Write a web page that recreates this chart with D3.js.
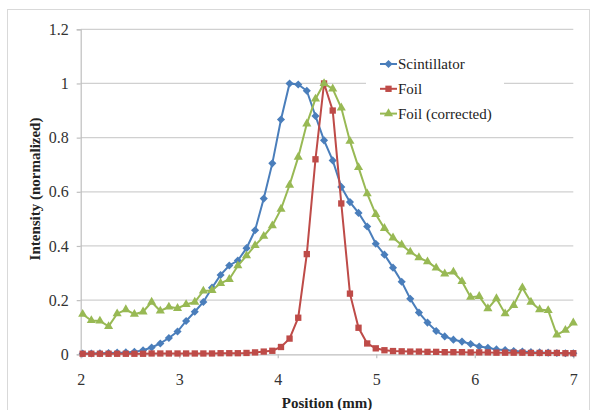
<!DOCTYPE html>
<html>
<head>
<meta charset="utf-8">
<script src="https://cdn.jsdelivr.net/npm/d3@7"></script>
<style>
  body { margin: 0; background: #fff; }
  svg { display: block; }
  svg text { font-family: 'Liberation Serif', 'Times New Roman', Times, 'DejaVu Serif', serif; }
</style>
</head>
<body>
<svg id="viz" width="594" height="410"></svg>
<script>
// positions (mm)
let positions = [2.020, 2.108, 2.195, 2.283, 2.370, 2.458, 2.545, 2.633, 2.720, 2.808,
  2.895, 2.983, 3.070, 3.158, 3.245, 3.333, 3.420, 3.508, 3.595, 3.683,
  3.770, 3.858, 3.945, 4.033, 4.120, 4.208, 4.295, 4.383, 4.470, 4.558,
  4.645, 4.733, 4.820, 4.908, 4.995, 5.083, 5.170, 5.258, 5.345, 5.433,
  5.520, 5.608, 5.695, 5.783, 5.870, 5.958, 6.045, 6.133, 6.220, 6.308,
  6.395, 6.483, 6.570, 6.658, 6.745, 6.833, 6.920, 7.000]

let scintillator = [0.003, 0.003, 0.004, 0.005, 0.006, 0.007, 0.009, 0.015, 0.025, 0.040,
  0.060, 0.084, 0.123, 0.157, 0.193, 0.246, 0.293, 0.328, 0.346, 0.392,
  0.458, 0.575, 0.705, 0.867, 1.000, 0.996, 0.973, 0.880, 0.790, 0.716,
  0.618, 0.562, 0.522, 0.472, 0.408, 0.368, 0.320, 0.268, 0.205, 0.154,
  0.117, 0.086, 0.066, 0.054, 0.047, 0.038, 0.029, 0.024, 0.018, 0.016,
  0.012, 0.010, 0.008, 0.007, 0.006, 0.005, 0.004, 0.004]

let foil = [0.002, 0.002, 0.002, 0.002, 0.002, 0.002, 0.002, 0.002, 0.003, 0.003,
  0.003, 0.003, 0.003, 0.003, 0.003, 0.003, 0.004, 0.004, 0.004, 0.005,
  0.007, 0.010, 0.013, 0.027, 0.058, 0.135, 0.370, 0.720, 1.000, 0.900,
  0.557, 0.224, 0.098, 0.040, 0.022, 0.015, 0.012, 0.011, 0.010, 0.010,
  0.009, 0.009, 0.008, 0.008, 0.008, 0.007, 0.007, 0.007, 0.006, 0.006,
  0.006, 0.006, 0.005, 0.005, 0.005, 0.005, 0.004, 0.004]

let foilCorrected = [0.148, 0.125, 0.123, 0.103, 0.150, 0.165, 0.148, 0.157, 0.193, 0.160,
  0.175, 0.170, 0.184, 0.193, 0.234, 0.236, 0.262, 0.277, 0.327, 0.364,
  0.402, 0.436, 0.475, 0.536, 0.625, 0.728, 0.851, 0.943, 1.000, 0.980,
  0.910, 0.787, 0.690, 0.593, 0.517, 0.465, 0.430, 0.404, 0.378, 0.357,
  0.342, 0.319, 0.297, 0.304, 0.269, 0.211, 0.214, 0.169, 0.206, 0.150,
  0.181, 0.246, 0.193, 0.165, 0.162, 0.072, 0.089, 0.116]

let seriesNames = ['Scintillator', 'Foil', 'Foil (corrected)']
let xTicks = [2, 3, 4, 5, 6, 7]
let yTicks = [0, 0.2, 0.4, 0.6, 0.8, 1, 1.2]

//series colors and marker shapes
let colors = {
  'Scintillator': '#4a7ebb',
  'Foil': '#be4b48',
  'Foil (corrected)': '#98b954'
}
let symbols = {
  'Scintillator': [d3.symbolDiamond2, 42],
  'Foil': [d3.symbolSquare, 40],
  'Foil (corrected)': [d3.symbolTriangle, 36]
}

const serif = "'Liberation Serif', 'Times New Roman', Times, 'DejaVu Serif', serif"

let svg = d3.select('#viz')

// chart area border
svg.append('rect')
  .attr('x', 7.5).attr('y', 9.5)
  .attr('width', 582).attr('height', 420)
  .style('fill', '#fff')
  .style('stroke', '#d9d9d9')

let x = d3.scaleLinear().domain([2, 7]).range([80.7, 573.3])
let y = d3.scaleLinear().domain([0, 1.2]).range([354.3, 29.3])

// gridlines
svg.append('g')
  .selectAll('line')
  .data(yTicks.filter(d => d > 0))
  .enter()
  .append('line')
  .attr('x1', x(2)).attr('x2', x(7))
  .attr('y1', d => y(d)).attr('y2', d => y(d))
  .style('stroke', '#d0d0d0')
  .style('stroke-width', 1.3)

// axes
let yAxis = svg.append('g')
  .attr('transform', `translate(${x(2)},0)`)
  .call(d3.axisLeft(y).tickValues(yTicks).tickSize(4).tickPadding(8)
    .tickFormat(d => d3.format('.1~f')(d)))

let xAxis = svg.append('g')
  .attr('transform', `translate(0,${y(0)})`)
  .call(d3.axisBottom(x).tickValues(xTicks).tickSize(4).tickPadding(15)
    .tickFormat(d3.format('d')))

yAxis.attr('font-family', serif)
xAxis.attr('font-family', serif)

svg.selectAll('.domain, .tick line')
  .style('stroke', '#bfbfbf')
  .style('stroke-width', 1.2)

svg.selectAll('.tick text')
  .style('font-family', serif)
  .style('font-size', '16px')
  .style('fill', '#333')

// axis titles
svg.append('text')
  .attr('transform', 'translate(40,189) rotate(-90)')
  .attr('text-anchor', 'middle')
  .style('font-family', serif)
  .style('font-size', '15px')
  .style('font-weight', 'bold')
  .style('fill', '#222')
  .text('Intensity (normalized)')

svg.append('text')
  .attr('x', 327).attr('y', 408)
  .attr('text-anchor', 'middle')
  .style('font-family', serif)
  .style('font-size', '15px')
  .style('font-weight', 'bold')
  .style('fill', '#222')
  .text('Position (mm)')

// series
let seriesData = [scintillator, foil, foilCorrected]
let line = d3.line()
  .x((d, i) => x(positions[i]))
  .y(d => y(d))

seriesData.forEach((values, k) => {
  let name = seriesNames[k]
  let g = svg.append('g')
  g.append('path')
    .datum(values)
    .attr('d', line)
    .style('fill', 'none')
    .style('stroke', colors[name])
    .style('stroke-width', 2)
  g.selectAll('.marker')
    .data(values)
    .enter()
    .append('path')
    .attr('class', 'marker')
    .attr('transform', (d, i) => `translate(${x(positions[i])},${y(d)})`)
    .attr('d', d3.symbol().type(symbols[name][0]).size(symbols[name][1]))
    .style('fill', colors[name])
    .style('stroke', 'none')
})

// legend
let legend = svg.append('g')
legend.append('rect')
  .attr('x', 366).attr('y', 46)
  .attr('width', 138).attr('height', 82)
  .style('fill', '#fff')

let legendItems = legend.selectAll('.item')
  .data(seriesNames)
  .enter()
  .append('g')
  .attr('class', 'item')
  .attr('transform', (d, i) => `translate(380,${64 + i * 24.8})`)

legendItems.append('line')
  .attr('x1', 0).attr('x2', 17)
  .style('stroke', d => colors[d])
  .style('stroke-width', 2)

legendItems.append('path')
  .attr('transform', 'translate(8.5,0)')
  .attr('d', d => d3.symbol().type(symbols[d][0]).size(symbols[d][1])())
  .style('fill', d => colors[d])

legendItems.append('text')
  .attr('x', 18).attr('y', 5)
  .style('font-family', serif)
  .style('font-size', '15px')
  .style('fill', '#222')
  .text(d => d)
</script>
</body>
</html>
